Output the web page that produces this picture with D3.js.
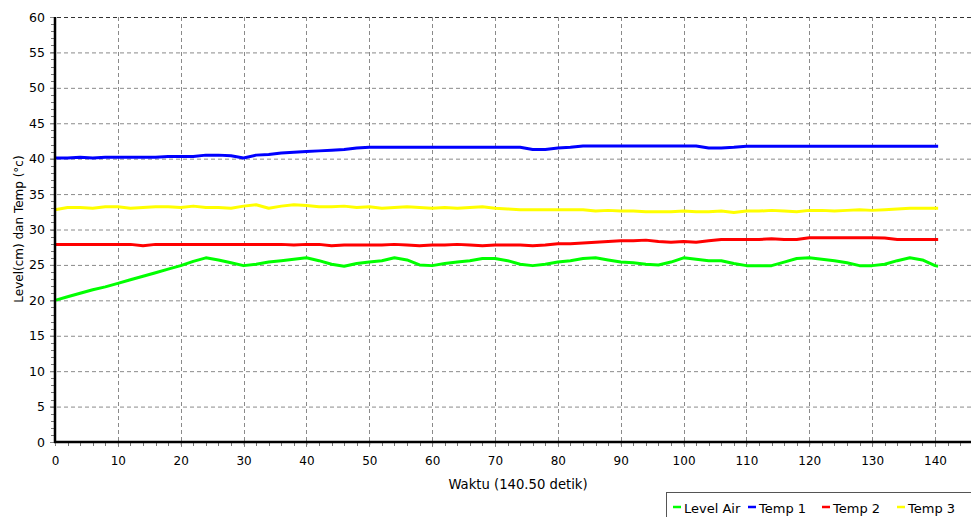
<!DOCTYPE html>
<html><head><meta charset="utf-8">
<script src="https://cdn.jsdelivr.net/npm/d3@7"></script>
<style>body{margin:0;background:#fff}svg{display:block}text{font-family:"DejaVu Sans",sans-serif;fill:#000}</style>
</head><body><svg id="c" width="971" height="517"></svg>
<script>
const time = [0,2,4,6,8,10,12,14,16,18,20,22,24,26,28,30,32,34,36,38,40,42,44,46,48,50,52,54,56,58,60,62,64,66,68,70,72,74,76,78,80,82,84,86,88,90,92,94,96,98,100,102,104,106,108,110,112,114,116,118,120,122,124,126,128,130,132,134,136,138,140,140.5];
const levelAir = [20.0,20.5,21.0,21.5,21.9,22.4,22.9,23.4,23.9,24.4,24.9,25.5,26.0,25.7,25.3,24.9,25.1,25.4,25.6,25.8,26.0,25.6,25.1,24.8,25.2,25.4,25.6,26.0,25.7,25.0,24.9,25.2,25.4,25.6,25.9,25.9,25.6,25.1,24.9,25.1,25.4,25.6,25.9,26.0,25.7,25.4,25.3,25.1,25.0,25.4,26.0,25.8,25.6,25.6,25.2,24.9,24.9,24.9,25.4,25.9,26.0,25.8,25.6,25.3,24.9,24.9,25.1,25.6,26.0,25.7,24.9,24.8];
const temp1 = [40.1,40.1,40.2,40.1,40.2,40.2,40.2,40.2,40.2,40.3,40.3,40.3,40.5,40.5,40.4,40.1,40.5,40.6,40.8,40.9,41.0,41.1,41.2,41.3,41.5,41.6,41.6,41.6,41.6,41.6,41.6,41.6,41.6,41.6,41.6,41.6,41.6,41.6,41.3,41.3,41.5,41.6,41.8,41.8,41.8,41.8,41.8,41.8,41.8,41.8,41.8,41.8,41.5,41.5,41.6,41.75,41.75,41.75,41.75,41.75,41.75,41.75,41.75,41.75,41.75,41.75,41.75,41.75,41.75,41.75,41.75,41.75];
const temp2 = [27.9,27.9,27.9,27.9,27.9,27.9,27.9,27.7,27.9,27.9,27.9,27.9,27.9,27.9,27.9,27.9,27.9,27.9,27.9,27.8,27.9,27.9,27.7,27.8,27.8,27.8,27.8,27.9,27.8,27.7,27.8,27.8,27.9,27.8,27.7,27.8,27.8,27.8,27.7,27.8,28.0,28.0,28.1,28.2,28.3,28.4,28.4,28.5,28.3,28.2,28.3,28.2,28.4,28.6,28.6,28.6,28.6,28.7,28.6,28.6,28.85,28.85,28.85,28.85,28.85,28.85,28.8,28.6,28.6,28.6,28.6,28.6];
const temp3 = [32.8,33.1,33.1,33.0,33.2,33.2,33.0,33.1,33.2,33.2,33.1,33.3,33.1,33.1,33.0,33.3,33.5,33.0,33.3,33.5,33.4,33.2,33.2,33.3,33.1,33.2,33.0,33.1,33.2,33.1,33.0,33.1,33.0,33.1,33.2,33.0,32.9,32.8,32.8,32.8,32.8,32.8,32.8,32.6,32.7,32.6,32.6,32.5,32.5,32.5,32.6,32.5,32.5,32.6,32.4,32.6,32.6,32.7,32.6,32.5,32.7,32.7,32.6,32.7,32.8,32.7,32.8,32.9,33.0,33.0,33.0,33.0];
const seriesNames = ["Level Air","Temp 1","Temp 2","Temp 3"];
const seriesColors = ["#00ff00","#0000ff","#ff0000","#ffff00"];
const xTicks = [0,10,20,30,40,50,60,70,80,90,100,110,120,130,140];
const yTicks = [0,5,10,15,20,25,30,35,40,45,50,55,60];
const xLabel = "Waktu (140.50 detik)";
const yLabel = "Level(cm) dan Temp (°c)";

const svg = d3.select("#c");
const W = 971, H = 517;
const x = d3.scaleLinear().domain([0,140]).range([55,935]);
const y = d3.scaleLinear().domain([0,60]).range([442,17]);
const RIGHT = W;

// grid
const grid = svg.append("g");
grid.selectAll("line.h").data(yTicks.filter(d=>d>0)).join("line")
  .attr("x1",50).attr("x2",RIGHT).attr("y1",d=>y(d)+0.5).attr("y2",d=>y(d)+0.5)
  .attr("stroke",d=>d===60?"#333":"#8a8a8a").attr("stroke-width",1).attr("stroke-dasharray","4,3");
grid.selectAll("line.v").data(xTicks.filter(d=>d>0)).join("line")
  .attr("x1",d=>Math.round(x(d))+0.5).attr("x2",d=>Math.round(x(d))+0.5).attr("y1",y(60)).attr("y2",447)
  .attr("stroke","#8a8a8a").attr("stroke-width",1).attr("stroke-dasharray","4,3");

// minor ticks
svg.append("g").selectAll("line").data(d3.range(0,61,1)).join("line")
  .attr("x1",51).attr("x2",54).attr("y1",d=>Math.round(y(d))+0.5).attr("y2",d=>Math.round(y(d))+0.5)
  .attr("stroke","#777");
svg.append("g").selectAll("line").data(d3.range(0,147,2)).join("line")
  .attr("x1",d=>Math.round(x(d))+0.5).attr("x2",d=>Math.round(x(d))+0.5).attr("y1",443).attr("y2",446)
  .attr("stroke","#777");

// axes (labels)
const ax = svg.append("g").attr("transform","translate(0,442)")
  .call(d3.axisBottom(x).tickValues(xTicks).tickSize(5).tickPadding(9));
ax.select(".domain").remove();
ax.selectAll(".tick line").attr("stroke","#8a8a8a").attr("stroke-dasharray","3,2");
ax.selectAll("text").attr("font-size",12).attr("font-family","DejaVu Sans").attr("fill","#000");
const ay = svg.append("g").attr("transform","translate(55,0)")
  .call(d3.axisLeft(y).tickValues(yTicks).tickSize(5).tickPadding(5));
ay.select(".domain").remove();
ay.selectAll(".tick line").attr("stroke","#8a8a8a");
ay.selectAll("text").attr("font-size",12.5).attr("font-family","DejaVu Sans").attr("fill","#000");

// lines
const allSeries = [levelAir,temp1,temp2,temp3];
const line = d3.line().x((d,i)=>x(time[i])).y(d=>y(d));
svg.append("g").selectAll("path").data(allSeries).join("path")
  .attr("d",d=>line(d)).attr("fill","none")
  .attr("stroke",(d,i)=>seriesColors[i]).attr("stroke-width",3).attr("stroke-linejoin","round");

// axis lines
svg.append("line").attr("x1",55).attr("x2",55).attr("y1",17).attr("y2",443).attr("stroke","#000").attr("stroke-width",2.5);
svg.append("line").attr("x1",54).attr("x2",RIGHT).attr("y1",442).attr("y2",442).attr("stroke","#000").attr("stroke-width",2.5);

// axis titles
svg.append("text").attr("x",518).attr("y",489).attr("text-anchor","middle").attr("font-size",13.2).text(xLabel);
svg.append("text").attr("transform","translate(23,229) rotate(-90)").attr("text-anchor","middle").attr("font-size",12).text(yLabel);

// legend
const lg = svg.append("g");
lg.append("rect").attr("x",666.5).attr("y",492.5).attr("width",400).attr("height",40).attr("fill","#fff").attr("stroke","#555");
const legX = [673,748,822,897];
const items = lg.selectAll("g.it").data(seriesNames).join("g").attr("transform",(d,i)=>`translate(${legX[i]},0)`);
items.append("line").attr("x1",0).attr("x2",8).attr("y1",507).attr("y2",507).attr("stroke",(d,i)=>seriesColors[i]).attr("stroke-width",2.5);
items.append("text").attr("x",11).attr("y",513).attr("font-size",13).text(d=>d);
</script></body></html>
